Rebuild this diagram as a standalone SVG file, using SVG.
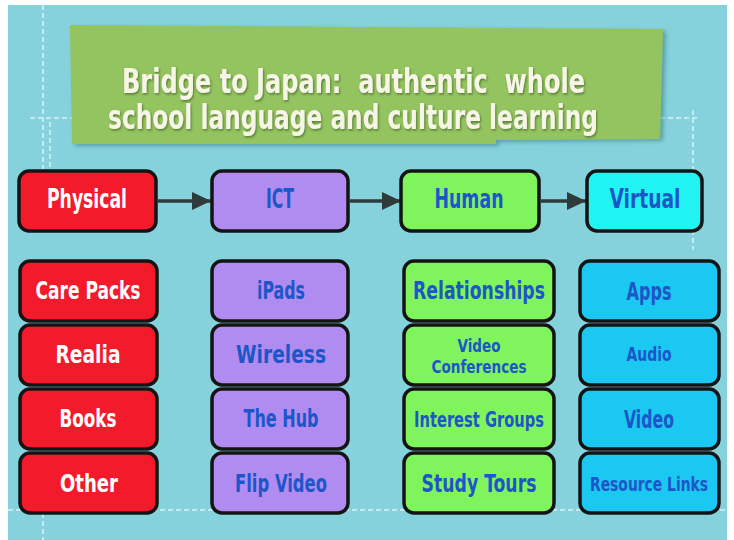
<svg xmlns="http://www.w3.org/2000/svg" width="734" height="540" viewBox="0 0 734 540">
<defs>
<style>
.box{stroke:#141414;stroke-width:3.5;}
.red{fill:#f31b2b;}
.pur{fill:#b08cf1;}
.grn{fill:#80f45c;}
.cyn{fill:#20f3f1;}
.blu{fill:#1ac8f1;}
.lbl{font-family:"Liberation Sans Narrow","DejaVu Sans Condensed","Liberation Sans",sans-serif;font-weight:bold;text-anchor:middle;}
.w{fill:#ffffff;}
.b{fill:#1c56c8;}
.title{font-family:"Liberation Sans Narrow","DejaVu Sans Condensed","Liberation Sans",sans-serif;font-weight:bold;font-size:33px;fill:#f7f6e6;}
.dash{stroke:#eef8fa;stroke-opacity:0.6;stroke-width:2;stroke-dasharray:5 3;fill:none;}
.conn{stroke:#2f3a3a;stroke-width:3.5;fill:none;}
</style>
<marker id="ah" markerUnits="userSpaceOnUse" markerWidth="22" markerHeight="22" refX="19" refY="11" orient="auto">
<path d="M0,2 L19,11 L0,20 Z" fill="#2f3a3a"/>
</marker>
<filter id="sh" x="-5%" y="-10%" width="115%" height="130%">
<feDropShadow dx="3" dy="2" stdDeviation="2" flood-color="#2a6a70" flood-opacity="0.5"/>
</filter>
<filter id="ts" x="-5%" y="-30%" width="110%" height="160%">
<feDropShadow dx="1" dy="1.5" stdDeviation="1" flood-color="#3d5a20" flood-opacity="0.7"/>
</filter>
</defs>
<rect x="0" y="0" width="734" height="540" fill="#ffffff"/>
<rect x="8" y="5" width="719" height="535" fill="#86d2dc"/>
<g id="decor">
<path class="dash" d="M43,5 V180 M30,118 H72 M50,122 V175"/>
<path class="dash" d="M660,118 H697 M693,110 V250"/>
<path class="dash" d="M8,510 H727 M43,505 V540"/>
</g>
<g id="banner">
<polygon points="70,25 663,29 660,139 496,140 496,144 72,144" fill="#93c45f" filter="url(#sh)"/>
<g filter="url(#ts)">
<text class="title" x="122" y="93" textLength="463" lengthAdjust="spacingAndGlyphs" xml:space="preserve">Bridge to Japan:  authentic  whole</text>
<text class="title" x="108" y="129" textLength="490" lengthAdjust="spacingAndGlyphs">school language and culture learning</text>
</g>
</g>
<g id="connectors">
<line class="conn" x1="158" y1="201" x2="211" y2="201" marker-end="url(#ah)"/>
<line class="conn" x1="350" y1="201" x2="401" y2="201" marker-end="url(#ah)"/>
<line class="conn" x1="541" y1="201" x2="586" y2="201" marker-end="url(#ah)"/>
</g>
<g id="physical"><rect class="box red" x="19" y="171" width="137" height="60" rx="10"/><text class="lbl w" x="87" y="208" font-size="26" textLength="80" lengthAdjust="spacingAndGlyphs">Physical</text></g>
<g id="ict"><rect class="box pur" x="212" y="171" width="136" height="60" rx="10"/><text class="lbl b" x="280" y="208" font-size="26" textLength="28" lengthAdjust="spacingAndGlyphs">ICT</text></g>
<g id="human"><rect class="box grn" x="401" y="171" width="138" height="60" rx="10"/><text class="lbl b" x="469" y="208" font-size="26" textLength="69" lengthAdjust="spacingAndGlyphs">Human</text></g>
<g id="virtual"><rect class="box cyn" x="587" y="171" width="115" height="60" rx="10"/><text class="lbl b" x="645" y="208" font-size="26" textLength="71" lengthAdjust="spacingAndGlyphs">Virtual</text></g>

<g id="care-packs"><rect class="box red" x="20" y="261" width="137" height="60" rx="10"/><text class="lbl w" x="88" y="299" font-size="25" textLength="105" lengthAdjust="spacingAndGlyphs">Care Packs</text></g>
<g id="realia"><rect class="box red" x="20" y="325" width="137" height="60" rx="10"/><text class="lbl w" x="88" y="363" font-size="25" textLength="65" lengthAdjust="spacingAndGlyphs">Realia</text></g>
<g id="books"><rect class="box red" x="20" y="389" width="137" height="60" rx="10"/><text class="lbl w" x="88" y="427" font-size="25" textLength="57" lengthAdjust="spacingAndGlyphs">Books</text></g>
<g id="other"><rect class="box red" x="20" y="453" width="137" height="60" rx="10"/><text class="lbl w" x="89" y="492" font-size="25" textLength="58" lengthAdjust="spacingAndGlyphs">Other</text></g>

<g id="ipads"><rect class="box pur" x="212" y="261" width="136" height="60" rx="10"/><text class="lbl b" x="281" y="299" font-size="25" textLength="48" lengthAdjust="spacingAndGlyphs">iPads</text></g>
<g id="wireless"><rect class="box pur" x="212" y="325" width="136" height="60" rx="10"/><text class="lbl b" x="281" y="363" font-size="25" textLength="90" lengthAdjust="spacingAndGlyphs">Wireless</text></g>
<g id="the-hub"><rect class="box pur" x="212" y="389" width="136" height="60" rx="10"/><text class="lbl b" x="281" y="427" font-size="25" textLength="75" lengthAdjust="spacingAndGlyphs">The Hub</text></g>
<g id="flip-video"><rect class="box pur" x="212" y="453" width="136" height="60" rx="10"/><text class="lbl b" x="281" y="492" font-size="25" textLength="92" lengthAdjust="spacingAndGlyphs">Flip Video</text></g>

<g id="relationships"><rect class="box grn" x="404" y="261" width="150" height="60" rx="10"/><text class="lbl b" x="479" y="299" font-size="24" textLength="132" lengthAdjust="spacingAndGlyphs">Relationships</text></g>
<g id="video-conferences"><rect class="box grn" x="404" y="325" width="150" height="60" rx="10"/><text class="lbl b" x="479" y="352" font-size="18" textLength="43" lengthAdjust="spacingAndGlyphs">Video</text><text class="lbl b" x="479" y="373" font-size="18" textLength="95" lengthAdjust="spacingAndGlyphs">Conferences</text></g>
<g id="interest-groups"><rect class="box grn" x="404" y="389" width="150" height="60" rx="10"/><text class="lbl b" x="479" y="427" font-size="21" textLength="130" lengthAdjust="spacingAndGlyphs">Interest Groups</text></g>
<g id="study-tours"><rect class="box grn" x="404" y="453" width="150" height="60" rx="10"/><text class="lbl b" x="479" y="492" font-size="25" textLength="115" lengthAdjust="spacingAndGlyphs">Study Tours</text></g>

<g id="apps"><rect class="box blu" x="580" y="261" width="139" height="60" rx="10"/><text class="lbl b" x="649" y="300" font-size="25" textLength="45" lengthAdjust="spacingAndGlyphs">Apps</text></g>
<g id="audio"><rect class="box blu" x="580" y="325" width="139" height="60" rx="10"/><text class="lbl b" x="649" y="361" font-size="20" textLength="45" lengthAdjust="spacingAndGlyphs">Audio</text></g>
<g id="video"><rect class="box blu" x="580" y="389" width="139" height="60" rx="10"/><text class="lbl b" x="649" y="428" font-size="25" textLength="50" lengthAdjust="spacingAndGlyphs">Video</text></g>
<g id="resource-links"><rect class="box blu" x="580" y="453" width="139" height="60" rx="10"/><text class="lbl b" x="649" y="491" font-size="19" textLength="118" lengthAdjust="spacingAndGlyphs">Resource Links</text></g>
</svg>
